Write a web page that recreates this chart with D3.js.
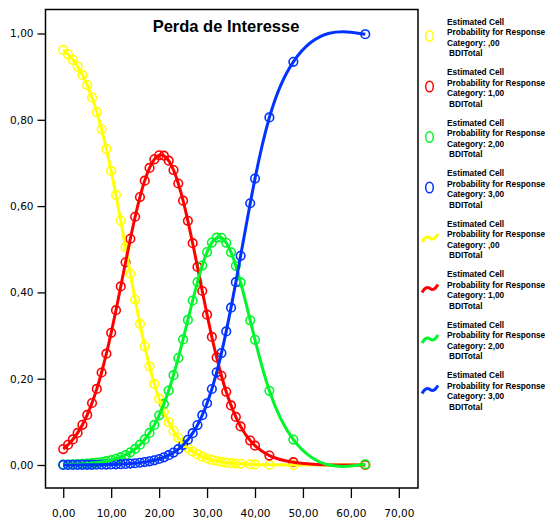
<!DOCTYPE html>
<html>
<head>
<meta charset="utf-8">
<script src="https://cdn.jsdelivr.net/npm/d3@7"></script>
<style>
  body { margin: 0; background: #fff; }
  svg { display: block; }
</style>
</head>
<body>
<svg id="chart" width="545" height="523"></svg>
<script>
// BDITotal values present in the data
const bdiValues = [0, 1, 2, 3, 4, 5, 6, 7, 8, 9, 10, 11, 12, 13, 14, 15, 16, 17, 18, 19,
  20, 21, 22, 23, 24, 25, 26, 27, 28, 29, 30, 31, 32, 33, 34, 35, 36, 37, 39, 40, 43, 48, 63];

// Estimated probability per response category
const probCat0 = [0.9619, 0.9518, 0.9391, 0.9234, 0.9040, 0.8803, 0.8517, 0.8177, 0.7780, 0.7324,
  0.6814, 0.6255, 0.5661, 0.5047, 0.4432, 0.3834, 0.3270, 0.2751, 0.2286, 0.1880,
  0.1532, 0.1238, 0.0994, 0.0794, 0.0631, 0.0500, 0.0395, 0.0311, 0.0245, 0.0192,
  0.0151, 0.0118, 0.0093, 0.0072, 0.0057, 0.0044, 0.0035, 0.0027, 0.0017, 0.0013,
  0.0006, 0.0002, 0.0000];
const probCat1 = [0.0370, 0.0469, 0.0592, 0.0744, 0.0932, 0.1161, 0.1437, 0.1764, 0.2144, 0.2579,
  0.3062, 0.3587, 0.4138, 0.4697, 0.5243, 0.5753, 0.6208, 0.6590, 0.6885, 0.7083,
  0.7178, 0.7168, 0.7053, 0.6836, 0.6524, 0.6126, 0.5659, 0.5140, 0.4590, 0.4032,
  0.3484, 0.2967, 0.2492, 0.2068, 0.1697, 0.1381, 0.1114, 0.0893, 0.0566, 0.0448,
  0.0219, 0.0065, 0.0002];
const probCat2 = [0.0010, 0.0012, 0.0016, 0.0020, 0.0026, 0.0033, 0.0042, 0.0054, 0.0069, 0.0088,
  0.0112, 0.0143, 0.0182, 0.0231, 0.0294, 0.0372, 0.0470, 0.0592, 0.0743, 0.0928,
  0.1151, 0.1416, 0.1726, 0.2082, 0.2480, 0.2911, 0.3361, 0.3812, 0.4240, 0.4622,
  0.4934, 0.5154, 0.5267, 0.5266, 0.5150, 0.4929, 0.4616, 0.4232, 0.3352, 0.2902,
  0.1720, 0.0590, 0.0016];
const probCat3 = [0.0001, 0.0001, 0.0002, 0.0002, 0.0003, 0.0003, 0.0004, 0.0006, 0.0007, 0.0009,
  0.0012, 0.0015, 0.0020, 0.0025, 0.0032, 0.0041, 0.0052, 0.0067, 0.0086, 0.0109,
  0.0139, 0.0178, 0.0227, 0.0288, 0.0366, 0.0463, 0.0585, 0.0737, 0.0925, 0.1154,
  0.1431, 0.1761, 0.2148, 0.2594, 0.3096, 0.3647, 0.4236, 0.4848, 0.6066, 0.6637,
  0.8055, 0.9344, 0.9983];

const categoryLabels = [",00", "1,00", "2,00", "3,00"];
const seriesColors = ["#ffff00", "#ff0000", "#00f52a", "#0033ff"];
const xTicks = [0, 10, 20, 30, 40, 50, 60, 70];
const yTicks = [0, 0.2, 0.4, 0.6, 0.8, 1.0];

const series = [probCat0, probCat1, probCat2, probCat3].map((vals, i) => ({
  color: seriesColors[i],
  label: categoryLabels[i],
  points: bdiValues.map((x, j) => ({ x: x, y: vals[j] }))
}));

// Natural cubic spline in x (y as a function of x), drawn as bezier segments
function CurveSplineX(context) { this._context = context; }
CurveSplineX.prototype = {
  areaStart() {}, areaEnd() {},
  lineStart() { this._x = []; this._y = []; },
  point(x, y) { this._x.push(+x); this._y.push(+y); },
  lineEnd() {
    const xs = this._x, ys = this._y, n = xs.length, ctx = this._context;
    if (!n) return;
    ctx.moveTo(xs[0], ys[0]);
    if (n < 3) { if (n === 2) ctx.lineTo(xs[1], ys[1]); return; }
    const h = d3.range(n - 1).map(i => xs[i + 1] - xs[i]);
    // solve tridiagonal system for second derivatives (M0 = Mn-1 = 0)
    const M = new Array(n).fill(0);
    const a = [], b = [], c = [], r = [];
    for (let i = 1; i < n - 1; i++) {
      a.push(h[i - 1]);
      b.push(2 * (h[i - 1] + h[i]));
      c.push(h[i]);
      r.push(6 * ((ys[i + 1] - ys[i]) / h[i] - (ys[i] - ys[i - 1]) / h[i - 1]));
    }
    const m = b.length;
    for (let i = 1; i < m; i++) {
      const w = a[i] / b[i - 1];
      b[i] -= w * c[i - 1];
      r[i] -= w * r[i - 1];
    }
    const sol = new Array(m);
    sol[m - 1] = r[m - 1] / b[m - 1];
    for (let i = m - 2; i >= 0; i--) sol[i] = (r[i] - c[i] * sol[i + 1]) / b[i];
    for (let i = 0; i < m; i++) M[i + 1] = sol[i];
    const slope = i => i < n - 1
      ? (ys[i + 1] - ys[i]) / h[i] - h[i] * (2 * M[i] + M[i + 1]) / 6
      : (ys[i] - ys[i - 1]) / h[i - 1] + h[i - 1] * (M[i - 1] + 2 * M[i]) / 6;
    for (let i = 0; i < n - 1; i++) {
      const d = h[i] / 3;
      ctx.bezierCurveTo(xs[i] + d, ys[i] + slope(i) * d,
        xs[i + 1] - d, ys[i + 1] - slope(i + 1) * d,
        xs[i + 1], ys[i + 1]);
    }
  }
};
const curveSplineX = context => new CurveSplineX(context);

const svg = d3.select("#chart");

// Plot frame bounds
const plot = { left: 45.5, right: 418, top: 9.5, bottom: 488 };

const xScale = d3.scaleLinear().domain([-3.7, 74]).range([plot.left, plot.right]);
const yScale = d3.scaleLinear().domain([-0.0533, 1.0556]).range([plot.bottom, plot.top]);

const commaFormat = d => d3.format(".2f")(d).replace(".", ",");

// Frame
svg.append("rect")
  .attr("x", plot.left).attr("y", plot.top)
  .attr("width", plot.right - plot.left).attr("height", plot.bottom - plot.top)
  .attr("fill", "none").attr("stroke", "#000").attr("stroke-width", 1.5);

// Y axis
const yAxis = svg.append("g")
  .attr("transform", `translate(${plot.left},0)`)
  .call(d3.axisLeft(yScale).tickValues(yTicks).tickSize(8).tickPadding(4).tickFormat(commaFormat));
yAxis.select(".domain").remove();

// X axis
const xAxis = svg.append("g")
  .attr("transform", `translate(0,${plot.bottom})`)
  .call(d3.axisBottom(xScale).tickValues(xTicks).tickSize(10).tickPadding(12).tickFormat(commaFormat));
xAxis.select(".domain").remove();

svg.selectAll(".tick line").attr("stroke", "#000").attr("stroke-width", 1.3);
svg.selectAll(".tick text")
  .attr("fill", "#000")
  .style("font-family", "DejaVu Sans, sans-serif")
  .style("font-size", "10.5px");

// Title
svg.append("text")
  .attr("x", 226).attr("y", 32)
  .attr("text-anchor", "middle")
  .style("font-family", "Liberation Sans, Arial, sans-serif")
  .style("font-weight", "bold")
  .style("font-size", "16.5px")
  .text("Perda de Interesse");

// Markers first, then the spline lines on top
series.forEach(s => {
  svg.append("g").selectAll("circle")
    .data(s.points)
    .enter()
    .append("circle")
    .attr("cx", d => xScale(d.x))
    .attr("cy", d => yScale(d.y))
    .attr("r", 4.3)
    .attr("fill", "none")
    .attr("stroke", s.color)
    .attr("stroke-width", 1.6);
});

const lineGen = d3.line()
  .x(d => xScale(d.x))
  .y(d => yScale(d.y))
  .curve(curveSplineX);

series.forEach(s => {
  svg.append("path")
    .datum(s.points)
    .attr("d", lineGen)
    .attr("fill", "none")
    .attr("stroke", s.color)
    .attr("stroke-width", 3);
});

// Legend
const legendX = 447;
const legendTop = 24.5;
const entryGap = 50.5;
const lineGap = 10.5;

const legendEntries = [];
series.forEach(s => legendEntries.push({ kind: "marker", color: s.color, label: s.label }));
series.forEach(s => legendEntries.push({ kind: "line", color: s.color, label: s.label }));

legendEntries.forEach((e, i) => {
  const y0 = legendTop + i * entryGap;
  const g = svg.append("g");
  const lines = ["Estimated Cell", "Probability for Response", "Category: " + e.label, "BDITotal"];
  lines.forEach((t, k) => {
    g.append("text")
      .attr("x", legendX + (k === 3 ? 2 : 0))
      .attr("y", y0 + k * lineGap)
      .style("font-family", "Liberation Sans, Arial, sans-serif")
      .style("font-weight", "bold")
      .style("font-size", "8.3px")
      .attr("fill", "#000")
      .text(t);
  });
  const cy = y0 + 11.5;
  if (e.kind === "marker") {
    g.append("ellipse")
      .attr("cx", 429.5).attr("cy", cy)
      .attr("rx", 3.8).attr("ry", 5.3)
      .attr("fill", "none")
      .attr("stroke", e.color)
      .attr("stroke-width", 1.5);
  } else {
    g.append("path")
      .attr("d", `M${422},${cy + 4} C${425},${cy - 1} ${427},${cy - 2} ${430},${cy} S${435},${cy + 1} ${438},${cy - 4}`)
      .attr("fill", "none")
      .attr("stroke", e.color)
      .attr("stroke-width", 3);
  }
});
</script>
</body>
</html>
